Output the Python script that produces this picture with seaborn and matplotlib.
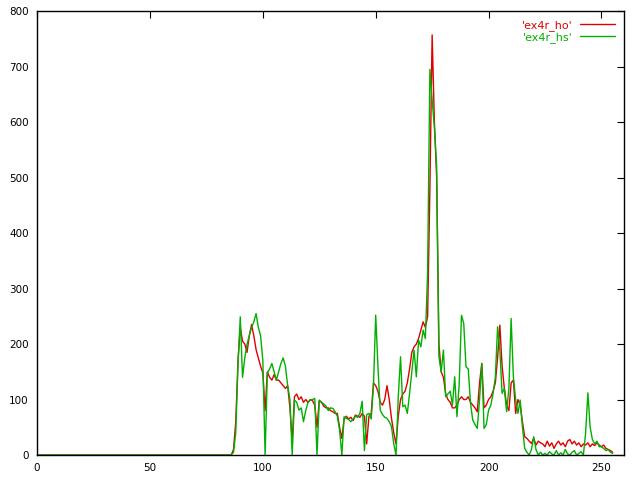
import numpy as np
import pandas as pd
import seaborn as sns
import matplotlib
matplotlib.use("Agg")
import matplotlib.pyplot as plt

# bins 87..255 (everything before is 0)
ho_tail = [10, 60, 170, 230, 205, 200, 185, 215, 235, 215,
           190, 175, 160, 148, 80, 150, 140, 135, 145, 135,
           135, 130, 125, 120, 125, 85, 25, 105, 110, 100,
           105, 95, 100, 95, 100, 98, 90, 50, 98, 95,
           88, 85, 85, 80, 78, 75, 75, 50, 30, 65,
           70, 65, 68, 62, 72, 70, 68, 75, 70, 20,
           70, 75, 130, 125, 115, 95, 90, 100, 125, 100,
           66, 40, 20, 70, 100, 110, 115, 130, 155, 185,
           195, 200, 210, 225, 240, 230, 250, 480, 757, 600,
           500, 200, 150, 140, 110, 100, 95, 85, 85, 90,
           100, 105, 100, 100, 105, 95, 90, 85, 78, 130,
           165, 85, 90, 100, 105, 115, 130, 175, 234, 160,
           120, 90, 80, 130, 135, 75, 100, 90, 60, 33,
           30, 25, 21, 30, 18, 25, 22, 20, 15, 25,
           16, 22, 12, 20, 25, 18, 22, 15, 25, 28,
           20, 25, 18, 22, 15, 20, 18, 22, 15, 20,
           17, 22, 18, 15, 18, 12, 10, 8, 5]
hs_tail = [5, 40, 165, 249, 140, 175, 200, 215, 230, 240,
           255, 230, 215, 170, 0, 148, 155, 165, 150, 135,
           150, 165, 175, 160, 125, 100, 0, 99, 95, 81,
           85, 60, 80, 95, 99, 100, 102, 0, 99, 95,
           92, 88, 80, 85, 84, 78, 70, 45, 0, 69,
           66, 64, 60, 65, 70, 68, 75, 97, 8, 73,
           75, 65, 123, 252, 159, 81, 73, 68, 66, 60,
           51, 20, 0, 105, 177, 87, 90, 75, 111, 150,
           189, 141, 207, 195, 225, 210, 330, 695, 640, 590,
           520, 177, 150, 189, 105, 110, 115, 90, 141, 69,
           129, 252, 237, 159, 155, 93, 63, 55, 48, 100,
           165, 48, 55, 81, 90, 111, 140, 231, 189, 111,
           120, 78, 120, 246, 140, 100, 75, 99, 51, 12,
           5, 0, 10, 33, 10, 0, 5, 0, 3, 0,
           6, 2, 0, 8, 0, 4, 0, 10, 2, 0,
           5, 8, 0, 3, 6, 0, 40, 112, 50, 28,
           20, 25, 15, 15, 12, 8, 10, 5, 3]

ho = [0] * 87 + ho_tail
hs = [0] * 87 + hs_tail
bins = list(range(len(ho)))

df = pd.DataFrame({
    "x": bins * 2,
    "y": ho + hs,
    "s": ["'ex4r_ho'"] * len(ho) + ["'ex4r_hs'"] * len(hs),
})

sns.set_style("white")
plt.rcParams["font.family"] = ["DejaVu Sans"]

fig = plt.figure(figsize=(6.4, 4.8), dpi=100)
ax = fig.add_axes([0.058, 0.052, 0.917, 0.925])
sns.lineplot(data=df, x="x", y="y", hue="s",
             palette=["#e00000", "#00b000"], linewidth=1, ax=ax)

ax.set_xlim(0, 260)
ax.set_ylim(0, 800)
ax.set_xticks(range(0, 251, 50))
ax.set_yticks(range(0, 801, 100))
ax.set_xlabel("")
ax.set_ylabel("")
ax.tick_params(direction="in", top=True, right=True, length=5,
               labelsize=7.5, pad=6, color="black", labelcolor="black")
for sp in ax.spines.values():
    sp.set_color("black")
    sp.set_linewidth(1)

leg = ax.legend(loc="upper right", frameon=False, markerfirst=False,
                labelcolor="linecolor", fontsize=8, handlelength=3.2,
                handletextpad=0.6, borderaxespad=0.4, labelspacing=0.1)

fig.savefig("out.png", dpi=100)
